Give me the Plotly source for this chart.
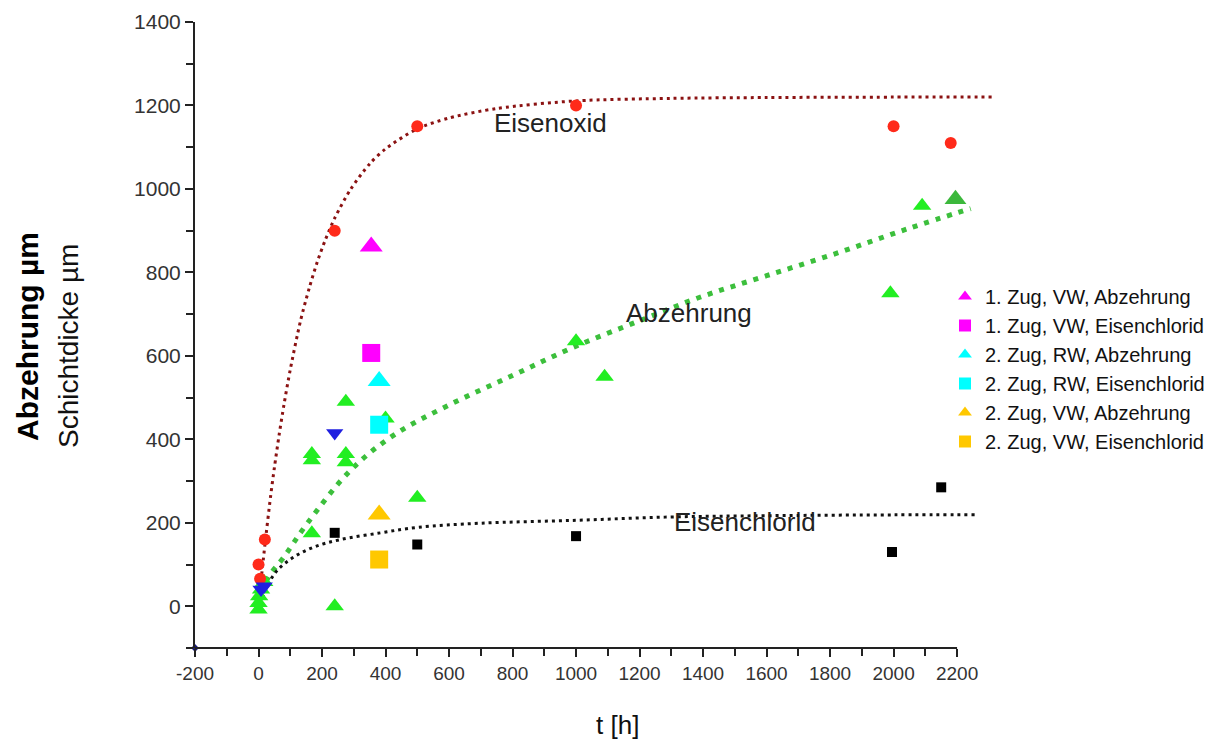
import plotly.graph_objects as go

# ---------------- data ----------------
# Eisenoxid measurements (red circles)
oxid_t = [0, 5, 20, 240, 500, 1000, 2000, 2180]
oxid_y = [100, 66, 160, 900, 1150, 1200, 1150, 1110]

# Abzehrung measurements (green triangles)
abz_t = [0, 0, 2, 8, 18, 168, 168, 168, 240, 275, 275, 275, 400, 500, 1000, 1090, 1990, 2090]
abz_y = [-8, 8, 24, 40, 58, 365, 350, 175, 0, 490, 365, 345, 450, 260, 635, 550, 750, 960]
abz_big_t = [2195]
abz_big_y = [975]

# Eisenchlorid measurements (black squares)
chlor_t = [240, 500, 1000, 1995, 2150]
chlor_y = [176, 148, 168, 130, 285]

# blue down triangles
blue_t = [240, 8, 18]
blue_y = [415, 40, 48]

# small navy point in the corner
corner_t = [-200]
corner_y = [-100]

# legend series
legend_names = ["1. Zug, VW, Abzehrung", "1. Zug, VW, Eisenchlorid",
                "2. Zug, RW, Abzehrung", "2. Zug, RW, Eisenchlorid",
                "2. Zug, VW, Abzehrung", "2. Zug, VW, Eisenchlorid"]
legend_t = [355, 355, 380, 380, 380, 380]
legend_y = [862, 607, 540, 435, 220, 112]

# fitted curves
fit_oxid_t = [10, 20, 38, 50, 65, 80, 100, 132, 160, 185, 210, 240, 290, 350, 400, 500, 600,
              752, 1000, 1300, 1600, 2000, 2310]
fit_oxid_y = [76, 146, 263, 332, 411, 482, 567, 683, 763, 825, 877, 930, 999, 1060, 1096, 1144,
              1170, 1193, 1211, 1217, 1219, 1220, 1220]

fit_abz_t = [0, 30, 80, 153, 290, 426, 594, 800, 993, 1203, 1392, 1600, 1833, 2050, 2243]
fit_abz_y = [5, 68, 118, 198, 326, 410, 480, 553, 621, 685, 741, 792, 849, 906, 953]

fit_chlor_t = [5, 25, 59, 111, 175, 259, 385, 500, 700, 1000, 1300, 1600, 2000, 2258]
fit_chlor_y = [5, 45, 86, 118, 142, 160, 176, 189, 199, 206, 214, 217, 219, 219]

# axis ticks
x_major = list(range(-200, 2201, 200))
x_minor = list(range(-100, 2101, 200))
y_major = list(range(0, 1401, 200))
y_minor = list(range(-100, 1301, 200))

# curve labels
label_text = ["Eisenoxid", "Abzehrung", "Eisenchlorid"]
label_t = [920, 1357, 1531]
label_y = [1158, 702, 202]

# ---------------- figure ----------------
fig = go.Figure()

# fitted curves
fig.add_trace(go.Scatter(x=fit_oxid_t, y=fit_oxid_y, mode="lines", showlegend=False,
                         line=dict(color="#8b1212", width=3, dash="3px,4px", shape="spline",
                                   smoothing=0.8),
                         hoverinfo="skip"))
fig.add_trace(go.Scatter(x=fit_abz_t, y=fit_abz_y, mode="lines", showlegend=False,
                         line=dict(color="#3cbf3c", width=5, dash="5px,7px", shape="spline"),
                         hoverinfo="skip"))
fig.add_trace(go.Scatter(x=fit_chlor_t, y=fit_chlor_y, mode="lines", showlegend=False,
                         line=dict(color="#111111", width=3, dash="3px,4px", shape="spline"),
                         hoverinfo="skip"))

# measurement points
fig.add_trace(go.Scatter(x=abz_t, y=abz_y, mode="markers", showlegend=False,
                         marker=dict(symbol="triangle-up", size=16, color="#22ee22")))
fig.add_trace(go.Scatter(x=abz_big_t, y=abz_big_y, mode="markers", showlegend=False,
                         marker=dict(symbol="triangle-up", size=19, color="#3cb83c")))
fig.add_trace(go.Scatter(x=oxid_t, y=oxid_y, mode="markers", showlegend=False,
                         marker=dict(symbol="circle", size=12, color="#ff2a1a")))
fig.add_trace(go.Scatter(x=chlor_t, y=chlor_y, mode="markers", showlegend=False,
                         marker=dict(symbol="square", size=10, color="#000000")))
fig.add_trace(go.Scatter(x=blue_t, y=blue_y, mode="markers", showlegend=False,
                         marker=dict(symbol="triangle-down", size=15, color="#1f1fe0")))
fig.add_trace(go.Scatter(x=corner_t, y=corner_y, mode="markers", showlegend=False,
                         cliponaxis=False,
                         marker=dict(symbol="diamond", size=6, color="#1a1a80")))

legend_colors = ["#ff00ff", "#ff00ff", "#00ffff", "#00ffff", "#ffc800", "#ffc800"]
legend_symbols = ["triangle-up", "square", "triangle-up", "square", "triangle-up", "square"]
legend_sizes = [20, 18, 20, 18, 20, 18]
for name, t, y, c, s, sz in zip(legend_names, legend_t, legend_y, legend_colors,
                                legend_symbols, legend_sizes):
    fig.add_trace(go.Scatter(x=[t], y=[y], mode="markers", name=name,
                             marker=dict(symbol=s, size=sz, color=c)))

for txt, t, y in zip(label_text, label_t, label_y):
    fig.add_annotation(x=t, y=y, text=txt, showarrow=False, xanchor="center", yanchor="middle",
                       font=dict(family="Liberation Sans, Arial", size=26, color="#222222"))

# page layout: the html body adds an 8 px offset
OFF = 8
W, H = 1215 - OFF, 747 - OFF
ml, mr, mt, mb = 195 - OFF, 223, 22 - OFF, 99
pw, ph = W - ml - mr, H - mt - mb


def px_to_paper(px, py):
    return (px - OFF - ml) / pw, (H - mb - (py - OFF)) / ph


# axis titles as annotations (positions given in page pixels)
for txt, px, py, size, ang, col in [
    ("<b>Abzehrung µm</b>", 28, 337, 30, -90, "#000000"),
    ("Schichtdicke µm", 68, 346, 28, -90, "#111111"),
    ("t [h]", 617, 725, 26, 0, "#111111"),
]:
    ax, ay = px_to_paper(px, py)
    fig.add_annotation(x=ax, y=ay, xref="paper", yref="paper", text=txt, showarrow=False,
                       textangle=ang, xanchor="center", yanchor="middle",
                       font=dict(family="Liberation Sans, Arial", size=size, color=col))

# x axis line only up to 2200
fig.add_shape(type="line", xref="x", yref="paper", x0=-200, x1=2200, y0=0, y1=0,
              line=dict(color="#222222", width=2))

lx, ly = px_to_paper(945, 277)
fig.update_layout(
    width=W, height=H,
    margin=dict(l=ml, r=mr, t=mt, b=mb, autoexpand=False),
    paper_bgcolor="white", plot_bgcolor="white",
    font=dict(family="Liberation Sans, Arial", color="#333333"),
    legend=dict(x=lx, y=ly, xanchor="left", yanchor="top",
                font=dict(size=20, color="#111111"), bgcolor="rgba(0,0,0,0)",
                itemsizing="constant", tracegroupgap=0),
    xaxis=dict(range=[-200, 2310], showgrid=False, zeroline=False, showline=False,
               tickmode="array", tickvals=x_major, ticktext=[str(v) for v in x_major],
               ticks="outside", ticklen=8, tickwidth=2, tickcolor="#222222",
               tickfont=dict(size=19, color="#333333"),
               minor=dict(tickmode="array", tickvals=x_minor, ticks="outside",
                          ticklen=7, tickwidth=2, tickcolor="#222222", showgrid=False)),
    yaxis=dict(range=[-100, 1400], showgrid=False, zeroline=False, showline=True,
               linecolor="#222222", linewidth=2,
               tickmode="array", tickvals=y_major, ticktext=[str(v) for v in y_major],
               ticks="outside", ticklen=8, tickwidth=2, tickcolor="#222222",
               tickfont=dict(size=21, color="#333333"),
               minor=dict(tickmode="array", tickvals=y_minor, ticks="outside",
                          ticklen=7, tickwidth=2, tickcolor="#222222", showgrid=False)),
)

fig.write_html("out.html")
